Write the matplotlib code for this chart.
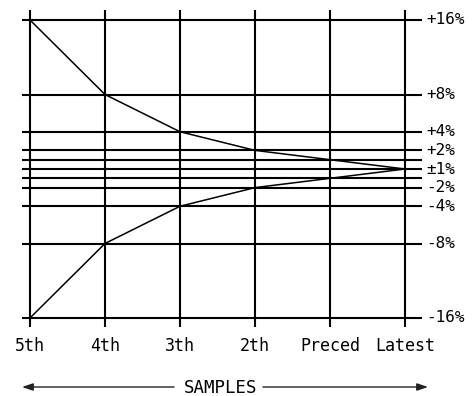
import matplotlib
matplotlib.use("Agg")
import matplotlib.pyplot as plt

# Sample positions (oldest to newest) and tolerance bands in percent
samples = ["5th", "4th", "3th", "2th", "Preced", "Latest"]
upper_limit = [16, 8, 4, 2, 1, 0]
lower_limit = [-16, -8, -4, -2, -1, 0]

# Horizontal reference levels and the labels printed on the right
grid_levels = [16, 8, 4, 2, 1, 0, -1, -2, -4, -8, -16]
label_levels = [16, 8, 4, 2, 0, -2, -4, -8, -16]
level_labels = ["+16%", "+8%", "+4%", "+2%", "±1%", "-2%", "-4%", "-8%", "-16%"]

W, H = 473, 396
fig = plt.figure(figsize=(W / 100, H / 100), dpi=100)
ax = fig.add_axes([0, 0, 1, 1])
ax.axis("off")

# Layout: pixels per sample step / per percent, and pixel origin
X_STEP = 75.0
Y_UNIT = 9.3125
X0, Y0 = 30.0, 169.0

ax.set_xlim(-X0 / X_STEP, (W - X0) / X_STEP)
ax.set_ylim((Y0 - H) / Y_UNIT, Y0 / Y_UNIT)


def px_x(p):
    return (p - X0) / X_STEP


def px_y(p):
    return (Y0 - p) / Y_UNIT


FONT = "DejaVu Sans Mono"
xs = list(range(len(samples)))

# Grid
ax.hlines(grid_levels, px_x(22), px_x(422), color="black", lw=1.5)
ax.vlines(xs, px_y(327), px_y(10), color="black", lw=1.5)

# Converging tolerance envelope
ax.plot(xs, upper_limit, color="black", lw=1.1, solid_joinstyle="miter")
ax.plot(xs, lower_limit, color="black", lw=1.1, solid_joinstyle="miter")

# Level labels on the right
for lvl, lab in zip(label_levels, level_labels):
    ax.text(px_x(426), lvl, lab, ha="left", va="center",
            fontsize=11.5, family=FONT, color="black")

# Sample labels under the grid
for x, lab in zip(xs, samples):
    ax.text(x, px_y(346), lab, ha="center", va="center",
            fontsize=12, family=FONT, color="black")

# Axis title with a double-headed arrow broken around it
y_arrow = px_y(387)
ax.text(px_x(221), px_y(388), "SAMPLES", ha="center", va="center",
        fontsize=12.5, family=FONT, color="black")
arrow_kw = dict(arrowstyle="-|>,head_length=0.65,head_width=0.22",
                color="#222222", lw=1.0, shrinkA=0, shrinkB=0,
                mutation_scale=10)
ax.annotate("", xy=(px_x(22), y_arrow), xytext=(px_x(174), y_arrow),
            arrowprops=arrow_kw)
ax.annotate("", xy=(px_x(428), y_arrow), xytext=(px_x(263), y_arrow),
            arrowprops=arrow_kw)

fig.savefig("out.png", dpi=100, facecolor="white")
